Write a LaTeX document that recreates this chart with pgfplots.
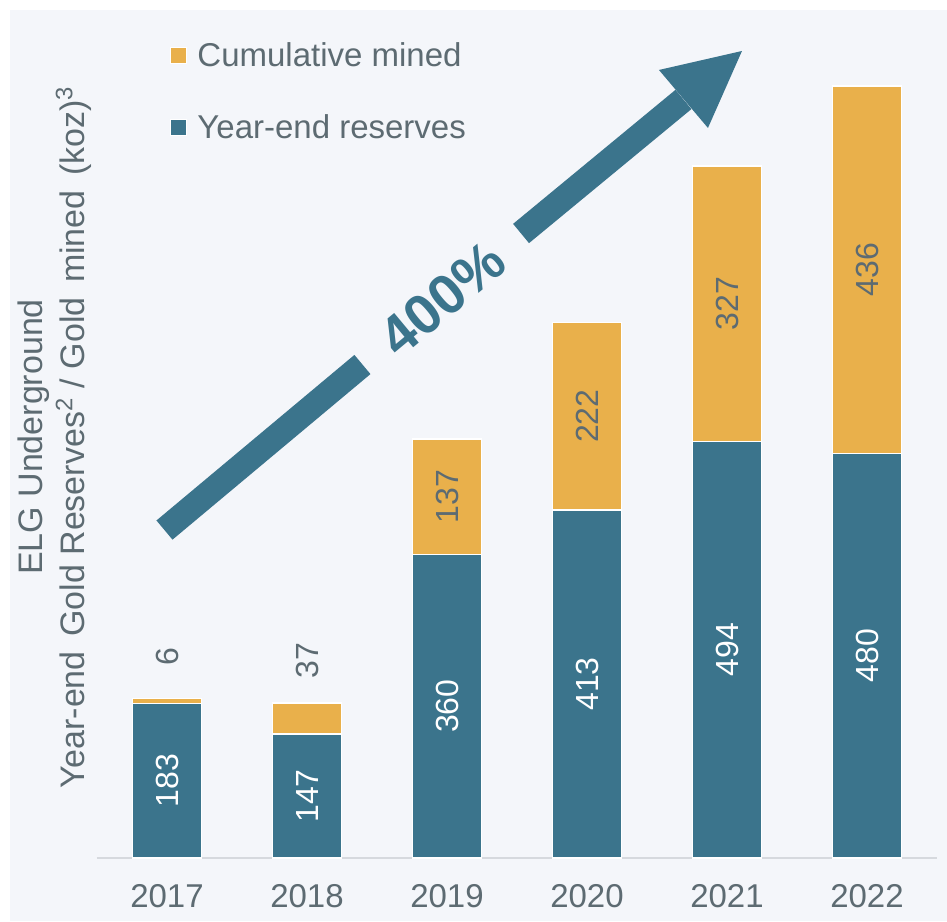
\documentclass[border=0pt]{standalone}
\usepackage{fontspec}
\setmainfont{Liberation Sans}
\usepackage{pgfplots}
\usepackage{pgfplotstable}
\pgfplotsset{compat=1.18}

\definecolor{barblue}{HTML}{3B748C}
\definecolor{bargold}{HTML}{E9B04B}
\definecolor{txtgray}{HTML}{5D6B72}
\definecolor{bgpanel}{HTML}{F4F6FA}
\definecolor{axgray}{HTML}{D6D9DE}

% year-end reserves and cumulative mined, koz
\pgfplotstableread{
x year res mined
0 2017 183 6
1 2018 147 37
2 2019 360 137
3 2020 413 222
4 2021 494 327
5 2022 480 436
}\elgdata

\tikzset{lblfont/.style={font=\fontsize{16}{19}\selectfont}}
\pgfplotsset{
  elgbase/.style={
    at={(0pt,0pt)}, anchor=south west,
    scale only axis, width=420pt, height=421.5pt,
    xmin=-0.5, xmax=5.5, ymin=0, ymax=1000,
    clip=false,
  },
}

\begin{document}
\begin{tikzpicture}
\fill[bgpanel] (-43.5pt,-31.5pt) rectangle (425pt,424pt);

\begin{axis}[
    elgbase,
    ybar stacked,
    bar width=34.5pt,
    axis y line=none,
    axis x line=bottom,
    x axis line style={-, draw=axgray, line width=0.8pt},
    xtick={0,...,5},
    xticklabels={2017,2018,2019,2020,2021,2022},
    major tick length=0pt,
    xticklabel style={anchor=center, yshift=-19pt, text=txtgray,
        font=\fontsize{16.5}{19}\selectfont},
    reverse legend,
    legend cell align=left,
    legend image code/.code={\draw[#1,/tikz/.cd,line width=0.5pt] (0pt,-4pt) rectangle (8pt,4pt);},
    legend style={at={(0.0798,0.9775)}, anchor=north west, draw=none, fill=none,
        text=txtgray, font=\fontsize{16.5}{19}\selectfont, row sep=18.5pt,
        /tikz/every odd column/.append style={column sep=3pt}},
]
\addplot[fill=barblue, draw=white, line width=0.75pt] table[x=x, y=res] {\elgdata};
\addlegendentry{Year-end reserves}
\addplot[fill=bargold, draw=white, line width=0.75pt] table[x=x, y=mined] {\elgdata};
\addlegendentry{Cumulative mined}

% growth arrow
\draw[barblue, line width=12.5pt] (axis cs:-0.018,389) -- (axis cs:1.396,585.4);
\draw[barblue, line width=12.5pt] (axis cs:2.529,740.8) -- (axis cs:3.689,899.8);
\fill[barblue] (axis cs:3.514,934.8) -- (axis cs:4.107,957.3) -- (axis cs:3.864,866) -- cycle;
\node[rotate=39.7, text=barblue, font=\bfseries\fontsize{28}{32}\selectfont]
    at (axis cs:1.964,663.1) {400\%};
\end{axis}

% value labels
\begin{axis}[elgbase, hide axis]
\addplot[draw=none, mark=none, nodes near coords={\pgfplotspointmeta},
    point meta=explicit symbolic,
    nodes near coords style={anchor=center, rotate=90, text=white, lblfont}]
    table[x=x, y expr=\thisrow{res}/2, meta=res] {\elgdata};
\addplot[draw=none, mark=none, nodes near coords={\pgfplotspointmeta},
    point meta=explicit symbolic, restrict x to domain=1.5:5.5,
    nodes near coords style={anchor=center, rotate=90, text=txtgray, lblfont}]
    table[x=x, y expr=\thisrow{res}+\thisrow{mined}/2, meta=mined] {\elgdata};
\addplot[draw=none, mark=none, nodes near coords={\pgfplotspointmeta},
    point meta=explicit symbolic, restrict x to domain=-0.5:1.5,
    nodes near coords style={anchor=center, rotate=90, text=txtgray, lblfont}]
    table[x=x, y expr=\thisrow{res}+\thisrow{mined}+50, meta=mined] {\elgdata};
\end{axis}

\node[rotate=90, align=center, text=txtgray, font=\fontsize{17}{21}\selectfont]
    at (-21pt,210.5pt)
    {ELG Underground\\Year-end\hspace{0.15em} Gold Reserves\textsuperscript{2} / Gold\hspace{0.15em} mined\hspace{0.15em} (koz)\textsuperscript{3}};

\pgfresetboundingbox
\useasboundingbox (-48.5pt,-31.5pt) rectangle (425pt,429pt);
\end{tikzpicture}
\end{document}
